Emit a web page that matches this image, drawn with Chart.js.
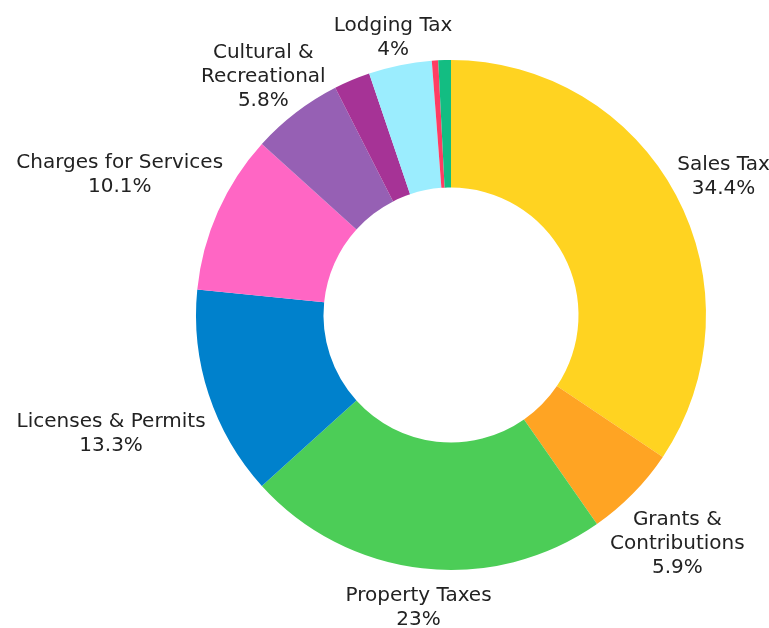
<!DOCTYPE html>
<html>
<head>
<meta charset="utf-8">
<script src="https://cdn.jsdelivr.net/npm/chart.js@4"></script>
<style>
  html, body { margin: 0; padding: 0; background: #ffffff; }
  #wrap { width: 769px; height: 628px; position: relative; }
</style>
</head>
<body>
<div id="wrap"><canvas id="c"></canvas></div>
<script>
const categories = ["Sales Tax", "Grants & Contributions", "Property Taxes", "Licenses & Permits",
  "Charges for Services", "Cultural & Recreational", "Fines & Forfeitures", "Lodging Tax",
  "Investment Income", "Miscellaneous"];
const labelLines = [["Sales Tax"], ["Grants &", "Contributions"], ["Property Taxes"], ["Licenses & Permits"],
  ["Charges for Services"], ["Cultural &", "Recreational"], ["Fines & Forfeitures"], ["Lodging Tax"],
  ["Investment Income"], ["Miscellaneous"]];
const shares = [34.4, 5.9, 23, 13.3, 10.1, 5.8, 2.3, 4, 0.4, 0.8];
const colors = ["#FFD321", "#FFA423", "#4CCD57", "#0081CC", "#FF66C4", "#9660B4", "#A63396", "#9BEDFE", "#FF3D63", "#13BD82"];
const minLabelShare = 3;

const FONT = '"DejaVu Sans", sans-serif';
const FONT_SIZE = 20;
const LINE_H = 24;
const CAP_H = 0.73 * FONT_SIZE;

const outsideLabels = {
  id: 'outsideLabels',
  afterDatasetsDraw(chart) {
    const ctx = chart.ctx;
    const meta = chart.getDatasetMeta(0);
    ctx.save();
    ctx.font = FONT_SIZE + 'px ' + FONT;
    ctx.fillStyle = '#222222';
    ctx.textAlign = 'center';
    ctx.textBaseline = 'alphabetic';
    meta.data.forEach((arc, i) => {
      const v = shares[i];
      if (v < minLabelShare) return;
      const lines = labelLines[i].concat([v + '%']);
      const p = arc.getProps(['x', 'y', 'startAngle', 'endAngle', 'outerRadius'], true);
      const mid = (p.startAngle + p.endAngle) / 2;
      const dx = Math.cos(mid), dy = Math.sin(mid);
      let w = 0;
      lines.forEach(l => { w = Math.max(w, ctx.measureText(l).width); });
      const n = lines.length;
      const hh = n * LINE_H / 2;
      const dist = p.outerRadius + 13 + (w / 2) * Math.abs(dx) + 0.5 * hh * Math.pow(Math.abs(dy), 8);
      const cx = p.x + dx * dist;
      const cy = p.y + dy * dist + 5;
      lines.forEach((l, k) => {
        const lineMid = cy + (k - (n - 1) / 2) * LINE_H;
        ctx.fillText(l, cx, lineMid + CAP_H / 2);
      });
    });
    ctx.restore();
  }
};

new Chart(document.getElementById('c'), {
  type: 'doughnut',
  data: {
    labels: categories,
    datasets: [{
      data: shares,
      backgroundColor: colors,
      borderWidth: 0,
      hoverOffset: 0
    }]
  },
  options: {
    responsive: true,
    maintainAspectRatio: false,
    animation: false,
    cutout: '50%',
    layout: { padding: { top: 60, bottom: 58, left: 194, right: 61 } },
    plugins: {
      legend: { display: false },
      tooltip: { enabled: false }
    }
  },
  plugins: [outsideLabels]
});
</script>
</body>
</html>
